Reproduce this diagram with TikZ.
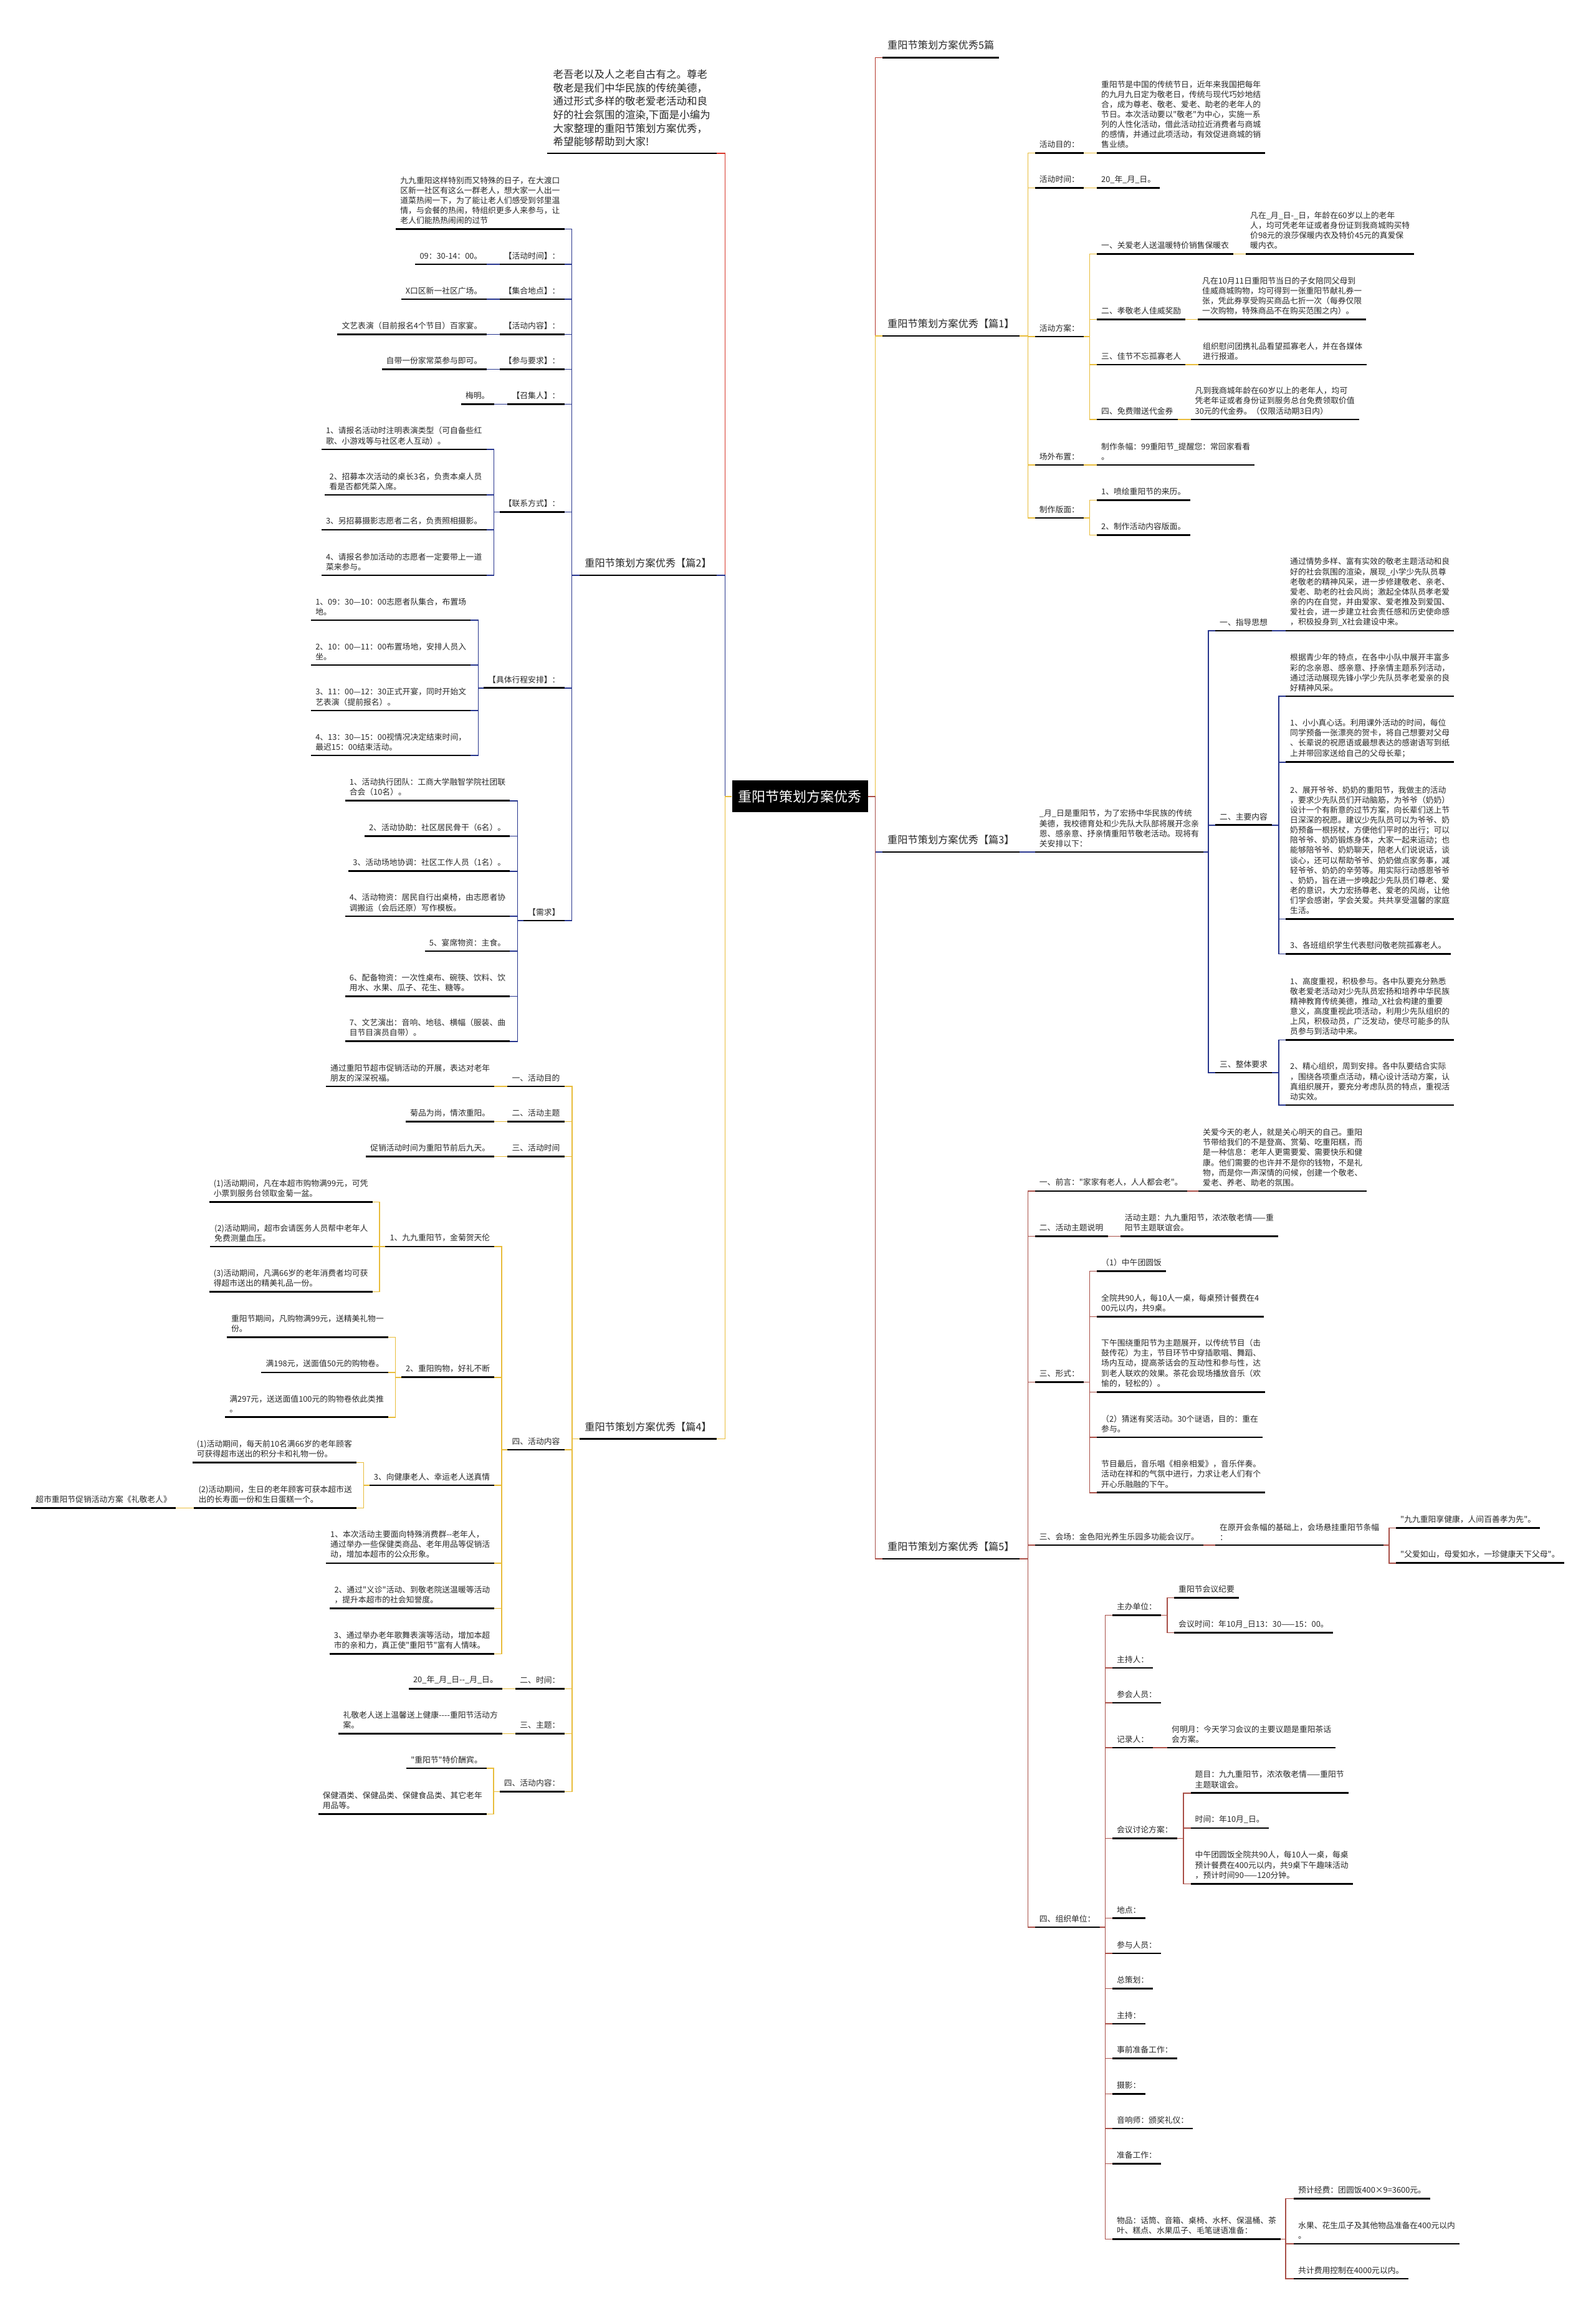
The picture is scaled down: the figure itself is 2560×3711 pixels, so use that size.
\documentclass[tikz,border=0pt]{standalone}
\usepackage{fontspec}
\setmainfont{Noto Sans CJK SC}
\newfontfamily\cjk{Noto Sans CJK SC}
\usepackage{xcolor}
\usepackage{tikz}

\definecolor{cred}{RGB}{214,52,40}
\definecolor{cdark}{RGB}{178,52,40}
\definecolor{cblue}{RGB}{38,52,140}
\definecolor{cgold}{RGB}{232,188,58}
\definecolor{cbrown}{RGB}{168,78,70}
\definecolor{ink}{RGB}{40,40,40}

\begin{document}
\begin{tikzpicture}[x=1pt,y=-1pt,
    every node/.style={inner sep=0pt},
    txt/.style={inner xsep=7pt,inner ysep=7.5pt,align=left,text=ink,
      font=\cjk\fontsize{12.8}{16.1}\selectfont,
      append after command={(\tikzlastnode.south west) edge[line width=2.7pt,draw=black] (\tikzlastnode.south east)}},
    R/.style={txt,anchor=south west},
    L/.style={txt,anchor=south east},
    big/.style={inner xsep=8pt,inner ysep=11.8pt,font=\cjk\fontsize{16.2}{20}\selectfont},
    link/.style={line width=1.4pt}]
  \fill[white] (0,0) rectangle (2560,3711);
  \useasboundingbox (0,0) rectangle (2560,3711);

  \node[fill=black,text=white,font=\cjk\fontsize{22}{26}\selectfont,minimum width=218pt,minimum height=51pt] (root) at (1283.5,1277.8) {重阳节策划方案优秀};
  \coordinate (vL) at (1163.3,0);
  \coordinate (vR) at (1404.5,0);

  \node[L,inner xsep=10pt,inner ysep=10.5pt,font=\cjk\fontsize{16.5}{21.7}\selectfont] (intro) at (1150,246) {老吾老以及人之老自古有之。尊老\\敬老是我们中华民族的传统美德，\\通过形式多样的敬老爱老活动和良\\好的社会氛围的渲染,下面是小编为\\大家整理的重阳节策划方案优秀，\\希望能够帮助到大家!};
  \node[L,big] (B) at (1150,922.9) {重阳节策划方案优秀【篇2】};
  \node[L,big] (D) at (1150,2308.7) {重阳节策划方案优秀【篇4】};
  \node[R,big] (full) at (1416,92.3) {重阳节策划方案优秀5篇};
  \node[R,big] (A) at (1416,539) {重阳节策划方案优秀【篇1】};
  \node[R,big] (C) at (1416,1367) {重阳节策划方案优秀【篇3】};
  \node[R,big] (E) at (1416,2501) {重阳节策划方案优秀【篇5】};

  \node[L] (B1) at (905.6,367.7) {九九重阳这样特别而又特殊的日子，在大渡口\\区新一社区有这么一群老人，想大家一人出一\\道菜热闹一下，为了能让老人们感受到邻里温\\情，与会餐的热闹，特组织更多人来参与，让\\老人们能热热闹闹的过节};
  \node[L] (B2) at (905.6,424) {【活动时间】：};
  \node[L] (B2t) at (780.5,424) {09：30-14：00。};
  \node[L] (B3) at (905.6,480) {【集合地点】：};
  \node[L] (B3t) at (780.5,480) {X口区新一社区广场。};
  \node[L] (B4) at (905.6,536.6) {【活动内容】：};
  \node[L] (B4t) at (780.5,536.6) {文艺表演（目前报名4个节目）百家宴。};
  \node[L] (B5) at (905.6,592.5) {【参与要求】：};
  \node[L] (B5t) at (780.5,592.5) {自带一份家常菜参与即可。};
  \node[L] (B6) at (905.6,648.5) {【召集人】：};
  \node[L] (B6t) at (792.6,648.5) {梅明。};
  \node[L] (B7) at (905.6,821.6) {【联系方式】：};
  \node[L] (B7a) at (780.5,721) {1、请报名活动时注明表演类型（可自备些红\\歌、小游戏等与社区老人互动）。};
  \node[L] (B7b) at (780.5,794) {2、招募本次活动的桌长3名，负责本桌人员\\看是否都凭菜入席。};
  \node[L] (B7c) at (780.5,850) {3、另招募摄影志愿者二名，负责照相摄影。};
  \node[L] (B7d) at (780.5,923) {4、请报名参加活动的志愿者一定要带上一道\\菜来参与。};
  \node[L] (B8) at (905.6,1103.8) {【具体行程安排】：};
  \node[L] (B8a) at (755.3,995) {1、09：30—10：00志愿者队集合，布置场\\地。};
  \node[L] (B8b) at (755.3,1067) {2、10：00—11：00布置场地，安排人员入\\坐。};
  \node[L] (B8c) at (755.3,1140) {3、11：00—12：30正式开宴，同时开始文\\艺表演（提前报名）。};
  \node[L] (B8d) at (755.3,1212) {4、13：30—15：00视情况决定结束时间，\\最迟15：00结束活动。};
  \node[L] (B9) at (905.6,1477) {【需求】};
  \node[L] (B9a) at (818.3,1284.8) {1、活动执行团队：工商大学融智学院社团联\\合会（10名）。};
  \node[L] (B9b) at (818.3,1341.3) {2、活动协助：社区居民骨干（6名）。};
  \node[L] (B9c) at (818.3,1397.8) {3、活动场地协调：社区工作人员（1名）。};
  \node[L] (B9d) at (818.3,1470) {4、活动物资：居民自行出桌椅，由志愿者协\\调搬运（会后还原）写作模板。};
  \node[L] (B9e) at (818.3,1526) {5、宴席物资：主食。};
  \node[L] (B9f) at (818.3,1598.6) {6、配备物资：一次性桌布、碗筷、饮料、饮\\用水、水果、瓜子、花生、糖等。};
  \node[L] (B9g) at (818.3,1670.8) {7、文艺演出：音响、地毯、横幅（服装、曲\\目节目演员自带）。};

  \node[L] (D1) at (905.6,1743) {一、活动目的};
  \node[L] (D1t) at (793.4,1743) {通过重阳节超市促销活动的开展，表达对老年\\朋友的深深祝福。};
  \node[L] (D2) at (905.6,1799.2) {二、活动主题};
  \node[L] (D2t) at (793.4,1799.2) {菊品为尚，情浓重阳。};
  \node[L] (D3) at (905.6,1855.5) {三、活动时间};
  \node[L] (D3t) at (793.4,1855.5) {促销活动时间为重阳节前后九天。};
  \node[L] (D4) at (905.6,2326) {四、活动内容};
  \node[L] (D4a) at (793.4,2000) {1、九九重阳节，金菊贺天伦};
  \node[L] (D4a1) at (597.6,1928.7) {(1)活动期间，凡在本超市购物满99元，可凭\\小票到服务台领取金菊一盆。};
  \node[L] (D4a2) at (597.6,2000) {(2)活动期间，超市会请医务人员帮中老年人\\免费测量血压。};
  \node[L] (D4a3) at (597.6,2072.6) {(3)活动期间，凡满66岁的老年消费者均可获\\得超市送出的精美礼品一份。};
  \node[L] (D4b) at (793.4,2209.8) {2、重阳购物，好礼不断};
  \node[L] (D4b1) at (623,2145.3) {重阳节期间，凡购物满99元，送精美礼物一\\份。};
  \node[L] (D4b2) at (623,2202) {满198元，送面值50元的购物卷。};
  \node[L] (D4b3) at (623,2273.8) {满297元，送送面值100元的购物卷依此类推\\。};
  \node[L] (D4c) at (793.4,2382.9) {3、向健康老人、幸运老人送真情};
  \node[L] (D4c1) at (572,2346.5) {(1)活动期间，每天前10名满66岁的老年顾客\\可获得超市送出的积分卡和礼物一份。};
  \node[L] (D4c2) at (572,2419.2) {(2)活动期间，生日的老年顾客可获本超市送\\出的长寿面一份和生日蛋糕一个。};
  \node[L] (D4c2t) at (282,2419.2) {超市重阳节促销活动方案《礼敬老人》};
  \node[L] (D4d) at (793.4,2507.9) {1、本次活动主要面向特殊消费群-{}-老年人，\\通过举办一些保健类商品、老年用品等促销活\\动，增加本超市的公众形象。};
  \node[L] (D4e) at (793.4,2580.7) {2、通过"义诊"活动、到敬老院送温暖等活动\\，提升本超市的社会知誉度。};
  \node[L] (D4f) at (793.4,2653.2) {3、通过举办老年歌舞表演等活动，增加本超\\市的亲和力，真正使"重阳节"富有人情味。};
  \node[L] (D5) at (905.6,2709.3) {二、时间：};
  \node[L] (D5t) at (806,2709.3) {20\_年\_月\_日-{}-\_月\_日。};
  \node[L] (D6) at (905.6,2781.4) {三、主题：};
  \node[L] (D6t) at (806,2781.4) {礼敬老人送上温馨送上健康-{}-{}-{}-重阳节活动方\\案。};
  \node[L] (D7) at (905.6,2874.3) {四、活动内容：};
  \node[L] (D7a) at (781,2837) {"重阳节"特价酬宾。};
  \node[L] (D7b) at (781,2910.4) {保健酒类、保健品类、保健食品类、其它老年\\用品等。};

  \node[R] (A1) at (1660.7,245.6) {活动目的：};
  \node[R] (A1t) at (1760,245.6) {重阳节是中国的传统节日，近年来我国把每年\\的九月九日定为敬老日，传统与现代巧妙地结\\合，成为尊老、敬老、爱老、助老的老年人的\\节日。本次活动要以"敬老"为中心，实施一系\\列的人性化活动，借此活动拉近消费者与商城\\的感情，并通过此项活动，有效促进商城的销\\售业绩。};
  \node[R] (A2) at (1660.7,301.5) {活动时间：};
  \node[R] (A2t) at (1760,301.5) {20\_年\_月\_日。};
  \node[R] (A3) at (1660.7,540) {活动方案：};
  \node[R] (A3a) at (1760,407.4) {一、关爱老人送温暖特价销售保暖衣};
  \node[R] (A3at) at (1999,407.4) {凡在\_月\_日-\_日，年龄在60岁以上的老年\\人，均可凭老年证或者身份证到我商城购买特\\价98元的浪莎保暖内衣及特价45元的真爱保\\暖内衣。};
  \node[R] (A3b) at (1760,512.7) {二、孝敬老人佳威奖励};
  \node[R] (A3bt) at (1922,512.7) {凡在10月11日重阳节当日的子女陪同父母到\\佳威商城购物，均可得到一张重阳节献礼券一\\张，凭此券享受购买商品七折一次（每券仅限\\一次购物，特殊商品不在购买范围之内）。};
  \node[R] (A3c) at (1760,585) {三、佳节不忘孤寡老人};
  \node[R] (A3ct) at (1923,585) {组织慰问团携礼品看望孤寡老人，并在各媒体\\进行报道。};
  \node[R] (A3d) at (1760,673) {四、免费赠送代金券};
  \node[R] (A3dt) at (1910.5,673) {凡到我商城年龄在60岁以上的老年人，均可\\凭老年证或者身份证到服务总台免费领取价值\\30元的代金券。（仅限活动期3日内）};
  \node[R] (A4) at (1660.7,746) {场外布置：};
  \node[R] (A4t) at (1760,746) {制作条幅：99重阳节\_提醒您：常回家看看\\。};
  \node[R] (A5) at (1660.7,831) {制作版面：};
  \node[R] (A5a) at (1760,802.4) {1、喷绘重阳节的来历。};
  \node[R] (A5b) at (1760,858.3) {2、制作活动内容版面。};

  \node[R] (C1) at (1660.7,1367) {\_月\_日是重阳节，为了宏扬中华民族的传统\\美德，我校德育处和少先队大队部将展开念亲\\恩、感亲意、抒亲情重阳节敬老活动。现将有\\关安排以下：};
  \node[R] (C2) at (1950,1012) {一、指导思想};
  \node[R] (C2t) at (2063,1012) {通过情势多样、富有实效的敬老主题活动和良\\好的社会氛围的渲染，展现\_小学少先队员尊\\老敬老的精神风采，进一步修建敬老、亲老、\\爱老、助老的社会风尚；激起全体队员孝老爱\\亲的内在自觉，并由爱家、爱老推及到爱国、\\爱社会，进一步建立社会责任感和历史使命感\\，积极投身到\_X社会建设中来。};
  \node[R] (C3) at (1950,1323.8) {二、主要内容};
  \node[R] (C3a) at (2063,1117) {根据青少年的特点，在各中小队中展开丰富多\\彩的念亲恩、感亲意、抒亲情主题系列活动，\\通过活动展现先锋小学少先队员孝老爱亲的良\\好精神风采。};
  \node[R] (C3b) at (2063,1222.8) {1、小小真心话。利用课外活动的时间，每位\\同学预备一张漂亮的贺卡，将自己想要对父母\\、长辈说的祝愿语或最想表达的感谢语写到纸\\上并带回家送给自己的父母长辈；};
  \node[R] (C3c) at (2063,1474.2) {2、展开爷爷、奶奶的重阳节，我做主的活动\\，要求少先队员们开动脑筋，为爷爷（奶奶）\\设计一个有新意的过节方案，向长辈们送上节\\日深深的祝愿。建议少先队员可以为爷爷、奶\\奶预备一根拐杖，方便他们平时的出行；可以\\陪爷爷、奶奶锻炼身体，大家一起来运动；也\\能够陪爷爷、奶奶聊天，陪老人们说说话，谈\\谈心，还可以帮助爷爷、奶奶做点家务事，减\\轻爷爷、奶奶的辛劳等。用实际行动感恩爷爷\\、奶奶，旨在进一步唤起少先队员们尊老、爱\\老的意识，大力宏扬尊老、爱老的风尚，让他\\们学会感谢，学会关爱。共共享受温馨的家庭\\生活。};
  \node[R] (C3d) at (2063,1530.5) {3、各班组织学生代表慰问敬老院孤寡老人。};
  \node[R] (C4) at (1950,1721) {三、整体要求};
  \node[R] (C4a) at (2063,1668.3) {1、高度重视，积极参与。各中队要充分熟悉\\敬老爱老活动对少先队员宏扬和培养中华民族\\精神教育传统美德，推动\_X社会构建的重要\\意义，高度重视此项活动，利用少先队组织的\\上风，积极动员，广泛发动，使尽可能多的队\\员参与到活动中来。};
  \node[R] (C4b) at (2063,1773) {2、精心组织，周到安排。各中队要结合实际\\，围绕各项重点活动，精心设计活动方案，认\\真组织展开，要充分考虑队员的特点，重视活\\动实效。};

  \node[R] (E1) at (1660.7,1911) {一、前言："家家有老人，人人都会老"。};
  \node[R] (E1t) at (1923,1911) {关爱今天的老人，就是关心明天的自己。重阳\\节带给我们的不是登高、赏菊、吃重阳糕，而\\是一种信息：老年人更需要爱、需要快乐和健\\康。他们需要的也许并不是你的钱物，不是礼\\物，而是你一声深情的问候，创建一个敬老、\\爱老、养老、助老的氛围。};
  \node[R] (E2) at (1660.7,1983.2) {二、活动主题说明};
  \node[R] (E2t) at (1797.6,1983.2) {活动主题：九九重阳节，浓浓敬老情——重\\阳节主题联谊会。};
  \node[R] (E3) at (1660.7,2217.5) {三、形式：};
  \node[R] (E3a) at (1760,2039.7) {（1）中午团圆饭};
  \node[R] (E3b) at (1760,2112.4) {全院共90人，每10人一桌，每桌预计餐费在4\\00元以内，共9桌。};
  \node[R] (E3c) at (1760,2233.2) {下午围绕重阳节为主题展开，以传统节目（击\\鼓传花）为主，节目环节中穿插歌唱、舞蹈、\\场内互动，提高茶话会的互动性和参与性，达\\到老人联欢的效果。茶花会现场播放音乐（欢\\愉的，轻松的）。};
  \node[R] (E3d) at (1760,2306) {（2）猜迷有奖活动。30个谜语，目的：重在\\参与。};
  \node[R] (E3e) at (1760,2394.8) {节目最后，音乐唱《相亲相爱》，音乐伴奏。\\活动在祥和的气氛中进行，力求让老人们有个\\开心乐融融的下午。};
  \node[R] (E4) at (1660.7,2479) {三、会场：金色阳光养生乐园多功能会议厅。};
  \node[R] (E4t) at (1950,2479) {在原开会条幅的基础上，会场悬挂重阳节条幅\\：};
  \node[R] (E4a) at (2240,2451.3) {"九九重阳享健康，人间百善孝为先"。};
  \node[R] (E4b) at (2240,2507.8) {"父爱如山，母爱如水，一珍健康天下父母"。};
  \node[R] (E5) at (1660.7,3091.9) {四、组织单位：};
  \node[R] (E5a) at (1784.8,2591.7) {主办单位：};
  \node[R] (E5a1) at (1884,2563.7) {重阳节会议纪要};
  \node[R] (E5a2) at (1884,2619.6) {会议时间：年10月\_日13：30——15：00。};
  \node[R] (E5d) at (1784.8,2804) {记录人：};
  \node[R] (E5dt) at (1873,2804) {何明月：今天学习会议的主要议题是重阳茶话\\会方案。};
  \node[R] (E5e) at (1784.8,2949.5) {会议讨论方案：};
  \node[R] (E5e1) at (1910.5,2876.8) {题目：九九重阳节，浓浓敬老情——重阳节\\主题联谊会。};
  \node[R] (E5e2) at (1910.5,2933) {时间：年10月\_日。};
  \node[R] (E5e3) at (1910.5,3022.2) {中午团圆饭全院共90人，每10人一桌，每桌\\预计餐费在400元以内，共9桌下午趣味活动\\，预计时间90——120分钟。};
  \foreach \n/\y/\t in {E5b/2675.9/主持人：,E5c/2732/参会人员：,E5f/3077.7/地点：,E5g/3133.9/参与人员：,E5h/3190.4/总策划：,E5i/3246.9/主持：,E5j/3302.6/事前准备工作：,E5k/3359.2/摄影：,E5l/3414.9/音响师：颁奖礼仪：,E5m/3471.4/准备工作：}
    \node[R] (\n) at (1784.8,\y) {\t};
  \node[R] (E5n) at (1784.8,3592.2) {物品：话筒、音箱、桌椅、水杯、保温桶、茶\\叶、糕点、水果瓜子、毛笔谜语准备：};
  \node[R] (E5n1) at (2076,3527.5) {预计经费：团圆饭400×9=3600元。};
  \node[R] (E5n2) at (2076,3600) {水果、花生瓜子及其他物品准备在400元以内\\。};
  \node[R] (E5n3) at (2076,3656) {共计费用控制在4000元以内。};

  \foreach \n/\c in {intro/cred,B/cblue,D/cgold}
    \draw[link,draw=\c] (root.west) -- (root.west -| vL) |- (\n.south east);
  \foreach \n/\c in {full/cdark,A/cgold,C/cblue,E/cbrown}
    \draw[link,draw=\c] (root.east) -- (root.east -| vR) |- (\n.south west);

  \coordinate (vB) at (917.7,0);
  \coordinate (vB7) at (792.6,0);
  \coordinate (vB8) at (767.5,0);
  \coordinate (vB9) at (830.5,0);
  \foreach \n in {B1,B2,B3,B4,B5,B6,B7,B8,B9}
    \draw[link,cblue] (B.south west) -- (B.south west -| vB) |- (\n.south east);
  \foreach \n in {B2,B3,B4,B5,B6}
    \draw[link,cblue] (\n.south west) -- (\n t.south east);
  \foreach \n in {B7a,B7b,B7c,B7d}
    \draw[link,cblue] (B7.south west) -- (B7.south west -| vB7) |- (\n.south east);
  \foreach \n in {B8a,B8b,B8c,B8d}
    \draw[link,cblue] (B8.south west) -- (B8.south west -| vB8) |- (\n.south east);
  \foreach \n in {B9a,B9b,B9c,B9d,B9e,B9f,B9g}
    \draw[link,cblue] (B9.south west) -- (B9.south west -| vB9) |- (\n.south east);

  \coordinate (vD) at (917.8,0);
  \coordinate (vD4) at (805,0);
  \coordinate (vD4a) at (609,0);
  \coordinate (vD4b) at (634.6,0);
  \coordinate (vD4c) at (583.6,0);
  \coordinate (vD7) at (792,0);
  \foreach \n in {D1,D2,D3,D4,D5,D6,D7}
    \draw[link,cgold] (D.south west) -- (D.south west -| vD) |- (\n.south east);
  \foreach \n in {D1,D2,D3,D5,D6,D4c2}
    \draw[link,cgold] (\n.south west) -- (\n t.south east);
  \foreach \n in {D4a,D4b,D4c,D4d,D4e,D4f}
    \draw[link,cgold] (D4.south west) -- (D4.south west -| vD4) |- (\n.south east);
  \foreach \n in {D4a1,D4a2,D4a3}
    \draw[link,cgold] (D4a.south west) -- (D4a.south west -| vD4a) |- (\n.south east);
  \foreach \n in {D4b1,D4b2,D4b3}
    \draw[link,cgold] (D4b.south west) -- (D4b.south west -| vD4b) |- (\n.south east);
  \foreach \n in {D4c1,D4c2}
    \draw[link,cgold] (D4c.south west) -- (D4c.south west -| vD4c) |- (\n.south east);
  \foreach \n in {D7a,D7b}
    \draw[link,cgold] (D7.south west) -- (D7.south west -| vD7) |- (\n.south east);

  \coordinate (vA) at (1649.4,0);
  \coordinate (vA3) at (1748.7,0);
  \foreach \n in {A1,A2,A3,A4,A5}
    \draw[link,cgold] (A.south east) -- (A.south east -| vA) |- (\n.south west);
  \foreach \n in {A1,A2,A3a,A3b,A3c,A3d,A4}
    \draw[link,cgold] (\n.south east) -- (\n t.south west);
  \foreach \n in {A3a,A3b,A3c,A3d}
    \draw[link,cgold] (A3.south east) -- (A3.south east -| vA3) |- (\n.south west);
  \foreach \n in {A5a,A5b}
    \draw[link,cgold] (A5.south east) -- (A5.south east -| vA3) |- (\n.south west);

  \coordinate (vC1) at (1939,0);
  \coordinate (vC3) at (2052,0);
  \draw[link,cblue] (C.south east) -- (C1.south west);
  \foreach \n in {C2,C3,C4}
    \draw[link,cblue] (C1.south east) -- (C1.south east -| vC1) |- (\n.south west);
  \draw[link,cblue] (C2.south east) -- (C2t.south west);
  \foreach \n in {C3a,C3b,C3c,C3d}
    \draw[link,cblue] (C3.south east) -- (C3.south east -| vC3) |- (\n.south west);
  \foreach \n in {C4a,C4b}
    \draw[link,cblue] (C4.south east) -- (C4.south east -| vC3) |- (\n.south west);

  \coordinate (vE) at (1649.4,0);
  \coordinate (vE3) at (1748.7,0);
  \coordinate (vE4) at (2228.8,0);
  \coordinate (vE5) at (1773.5,0);
  \coordinate (vE5a) at (1872.8,0);
  \coordinate (vE5e) at (1899,0);
  \coordinate (vE5n) at (2063,0);
  \foreach \n in {E1,E2,E3,E4,E5}
    \draw[link,cbrown] (E.south east) -- (E.south east -| vE) |- (\n.south west);
  \foreach \n in {E1,E2,E4,E5d}
    \draw[link,cbrown] (\n.south east) -- (\n t.south west);
  \foreach \n in {E3a,E3b,E3c,E3d,E3e}
    \draw[link,cbrown] (E3.south east) -- (E3.south east -| vE3) |- (\n.south west);
  \foreach \n in {E4a,E4b}
    \draw[link,cbrown] (E4t.south east) -- (E4t.south east -| vE4) |- (\n.south west);
  \foreach \n in {E5a,E5b,E5c,E5d,E5e,E5f,E5g,E5h,E5i,E5j,E5k,E5l,E5m,E5n}
    \draw[link,cbrown] (E5.south east) -- (E5.south east -| vE5) |- (\n.south west);
  \foreach \n in {E5a1,E5a2}
    \draw[link,cbrown] (E5a.south east) -- (E5a.south east -| vE5a) |- (\n.south west);
  \foreach \n in {E5e1,E5e2,E5e3}
    \draw[link,cbrown] (E5e.south east) -- (E5e.south east -| vE5e) |- (\n.south west);
  \foreach \n in {E5n1,E5n2,E5n3}
    \draw[link,cbrown] (E5n.south east) -- (E5n.south east -| vE5n) |- (\n.south west);
\end{tikzpicture}
\end{document}
